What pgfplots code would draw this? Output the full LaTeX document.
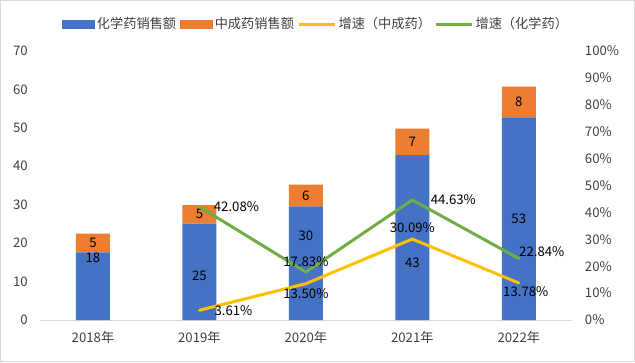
\documentclass[border=0pt]{standalone}
\usepackage{fontspec}
\setmainfont{Noto Sans CJK SC}
\usepackage{pgfplots}
\usepackage{pgfplotstable}
\pgfplotsset{compat=1.18}
\definecolor{cblue}{HTML}{4472C4}
\definecolor{corange}{HTML}{ED7D31}
\definecolor{cyellow}{HTML}{FFC000}
\definecolor{cgreen}{HTML}{70AD47}
\definecolor{cborder}{HTML}{D9D9D9}
\definecolor{ctick}{HTML}{404040}

\pgfplotstableread{
x y ly
0 17.6 16.1
1 25.1 11.4
2 29.6 21.9
3 42.9 14.8
4 52.7 26.3
}\chem
\pgfplotstableread{
x y
0 4.9
1 4.8
2 5.6
3 6.9
4 8.0
}\tcm
\pgfplotstableread{
x y dx dy
1 42.08 37 0
2 17.83 0 10
3 44.63 41 0
4 22.84 23 7
}\gchem
\pgfplotstableread{
x y dx dy
1 3.61 34 0
2 13.50 0 -10
3 30.09 0 11
4 13.78 7 -9
}\gtcm

\begin{document}
\fontsize{9.9pt}{12pt}\selectfont
\begin{tikzpicture}[font=\fontsize{9.9pt}{12pt}\selectfont]
\path[use as bounding box] (0pt,0pt) rectangle (476.25pt,271.5pt);
\draw[draw=cborder, line width=0.75pt] (0.375pt,0.375pt) rectangle (475.875pt,271.125pt);
\begin{axis}[
  at={(29.81pt,31.5pt)}, anchor=south west, scale only axis,
  width=399.2pt, height=201.75pt,
  xmin=-0.5, xmax=4.5, ymin=0, ymax=70,
  ybar stacked, bar width=25.5pt,
  xtick={0,1,2,3,4},
  xticklabels={2018年,2019年,2020年,2021年,2022年},
  ytick={0,10,...,70},
  axis x line*=bottom, axis y line*=left,
  x axis line style={draw=cborder, line width=0.75pt},
  y axis line style={draw=none},
  tick style={draw=none}, major tick length=0pt,
  /pgf/number format/assume math mode=true,
  yticklabel style={text=ctick, inner sep=0pt, anchor=east, xshift=-8.8pt},
  xticklabel style={text=ctick, inner sep=0pt, anchor=north, yshift=-8.5pt},
  legend columns=4,
  legend style={at={(0.519,1.1)}, anchor=center, draw=none, fill=none,
    inner sep=0pt, nodes={inner sep=1.2pt, text=ctick},
    /tikz/every even column/.append style={column sep=1.8pt}},
]
\addplot[fill=cblue, draw=none,
  legend image code/.code={\fill[cblue] (0pt,-3.4pt) rectangle (24.75pt,3.4pt);},
  point meta=rawy,
  nodes near coords={\pgfmathprintnumber[fixed,precision=0]{\pgfplotspointmeta}},
  visualization depends on={\thisrow{ly} \as \ly},
  visualization depends on={rawy \as \ry},
  every node near coord/.append style={anchor=center, text=black, yshift={(\ly-0.5*\ry)*2.882pt}},
] table[x=x,y=y] {\chem};
\addlegendentry{化学药销售额}
\addplot[fill=corange, draw=none,
  legend image code/.code={\fill[corange] (0pt,-3.4pt) rectangle (24.75pt,3.4pt);},
  point meta=rawy,
  nodes near coords={\pgfmathprintnumber[fixed,precision=0]{\pgfplotspointmeta}},
  every node near coord/.append style={anchor=center, text=black},
] table[x=x,y=y] {\tcm};
\addlegendentry{中成药销售额}
\addlegendimage{legend image code/.code={\draw[cyellow, line width=2.25pt] (0pt,0pt) -- (27pt,0pt);}}
\addlegendentry{增速（中成药）}
\addlegendimage{legend image code/.code={\draw[cgreen, line width=2.25pt] (0pt,0pt) -- (27pt,0pt);}}
\addlegendentry{增速（化学药）}
\end{axis}
\begin{axis}[
  at={(29.81pt,31.5pt)}, anchor=south west, scale only axis,
  width=399.2pt, height=201.75pt,
  xmin=-0.5, xmax=4.5, ymin=0, ymax=100,
  axis x line=none, axis y line*=right,
  y axis line style={draw=none},
  tick style={draw=none}, major tick length=0pt,
  ytick={0,10,...,100},
  /pgf/number format/assume math mode=true,
  yticklabel={\pgfmathprintnumber{\tick}\%},
  yticklabel style={text=ctick, inner sep=0pt, anchor=west, xshift=9.5pt},
]
\addplot[cyellow, line width=2.25pt, line join=round, line cap=round, mark=none,
  point meta=y,
  nodes near coords={\pgfmathprintnumber[fixed,fixed zerofill,precision=2]{\pgfplotspointmeta}\%},
  visualization depends on={\thisrow{dx} \as \dx},
  visualization depends on={\thisrow{dy} \as \dy},
  every node near coord/.append style={anchor=center, text=black, inner sep=0pt, xshift={\dx*0.75pt}, yshift={\dy*0.75pt}},
] table[x=x,y=y] {\gtcm};
\addplot[cgreen, line width=2.25pt, line join=round, line cap=round, mark=none,
  point meta=y,
  nodes near coords={\pgfmathprintnumber[fixed,fixed zerofill,precision=2]{\pgfplotspointmeta}\%},
  visualization depends on={\thisrow{dx} \as \dx},
  visualization depends on={\thisrow{dy} \as \dy},
  every node near coord/.append style={anchor=center, text=black, inner sep=0pt, xshift={\dx*0.75pt}, yshift={\dy*0.75pt}},
] table[x=x,y=y] {\gchem};
\end{axis}
\end{tikzpicture}
\end{document}
